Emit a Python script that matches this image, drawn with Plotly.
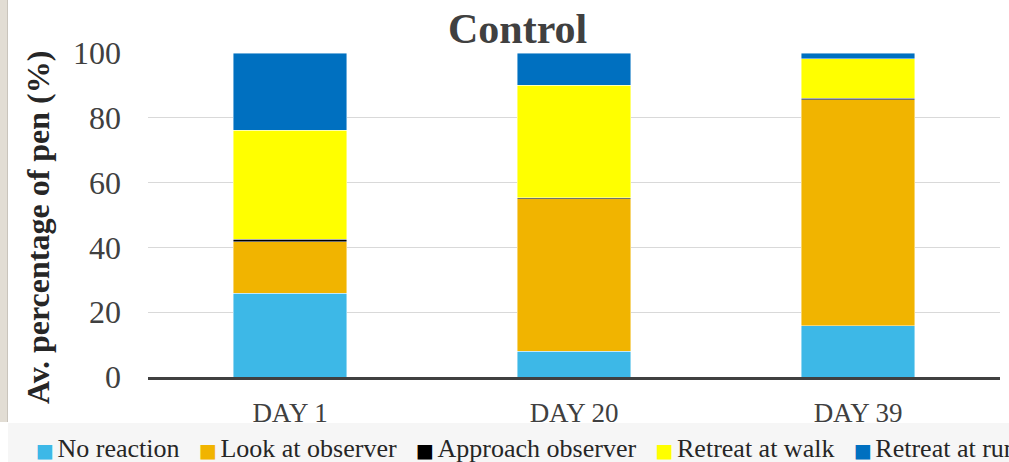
import plotly.graph_objects as go

# Average share of pen (%) per behaviour, control group
days = ["DAY 1", "DAY 20", "DAY 39"]
no_reaction = [25.8, 8.0, 15.8]
look_at_observer = [16.0, 47.0, 69.7]
approach_observer = [0.7, 0.4, 0.6]
retreat_at_walk = [33.7, 34.7, 12.2]
retreat_at_run = [23.8, 9.9, 1.7]

series_names = ["No reaction", "Look at observer", "Approach observer",
                "Retreat at walk", "Retreat at run"]
series_values = [no_reaction, look_at_observer, approach_observer,
                 retreat_at_walk, retreat_at_run]
series_colors = ["#3DB8E7", "#F1B400", "#000000", "#FFFF00", "#0070C0"]

y_ticks = [0, 20, 40, 60, 80, 100]

SERIF = "Liberation Serif, Times New Roman, serif"
W, H = 1009, 462
ML, MR, MT, MB = 148, 9, 53, 85
PW, PH = W - ML - MR, H - MT - MB


def px_x(px):
    return (px - ML) / PW


def px_y(py):
    return (H - MB - py) / PH


fig = go.Figure()
for name, vals, col in zip(series_names, series_values, series_colors):
    fig.add_trace(go.Bar(
        x=days, y=vals, name=name,
        marker=dict(color=col, line=dict(color="rgba(255,255,255,0.55)", width=0.8)),
        width=0.4,
        showlegend=False,
    ))

# Legend row built as a single line of text with coloured squares
legend_parts = []
for name, col in zip(series_names, series_colors):
    legend_parts.append(
        f"<span style='color:{col};font-family:DejaVu Sans;font-size:19px'>■</span>"
        f"<span style='font-size:14px'>\u00a0</span>{name}"
    )
legend_text = "\u00a0\u00a0\u00a0".join(legend_parts)

shapes = [
    # side strip at left edge
    dict(type="rect", xref="paper", yref="paper",
         x0=px_x(0), x1=px_x(7), y0=px_y(422), y1=px_y(0),
         fillcolor="#E2DDD4", line=dict(width=0), layer="below"),
    dict(type="line", xref="paper", yref="paper",
         x0=px_x(7.5), x1=px_x(7.5), y0=px_y(422), y1=px_y(0),
         line=dict(color="#C9C4BC", width=1), layer="below"),
    # legend band
    dict(type="rect", xref="paper", yref="paper",
         x0=px_x(8), x1=px_x(W), y0=px_y(H), y1=px_y(423),
         fillcolor="#F6F6F6", line=dict(width=0), layer="below"),
]

annotations = [
    dict(text="<b>Control</b>", xref="paper", yref="paper",
         x=px_x(517), y=px_y(29), xanchor="center", yanchor="middle",
         showarrow=False, font=dict(family=SERIF, size=42, color="#404040")),
    dict(text="<b>Av. percentage of pen (%)</b>", xref="paper", yref="paper",
         x=px_x(38), y=px_y(228), xanchor="center", yanchor="middle",
         textangle=-90, showarrow=False,
         font=dict(family=SERIF, size=32, color="#262626")),
    dict(text=legend_text, xref="paper", yref="paper",
         x=px_x(34), y=px_y(448), xanchor="left", yanchor="middle",
         showarrow=False, align="left",
         font=dict(family=SERIF, size=26, color="#262626")),
]

fig.update_layout(
    width=W, height=H,
    margin=dict(l=ML, r=MR, t=MT, b=MB, pad=0),
    barmode="stack",
    bargap=0.6,
    plot_bgcolor="white",
    paper_bgcolor="white",
    showlegend=False,
    shapes=shapes,
    annotations=annotations,
    xaxis=dict(
        showline=True, linecolor="#404040", linewidth=3,
        showgrid=False, ticks="", ticklabelstandoff=10,
        tickfont=dict(family=SERIF, size=27, color="#404040"),
    ),
    yaxis=dict(
        range=[0, 100], tickvals=y_ticks, showline=False,
        showgrid=True, gridcolor="#D9D9D9", gridwidth=1,
        zeroline=False, ticks="", ticklabelstandoff=26,
        tickfont=dict(family=SERIF, size=32, color="#404040"),
    ),
)

fig.write_html("out.html")
